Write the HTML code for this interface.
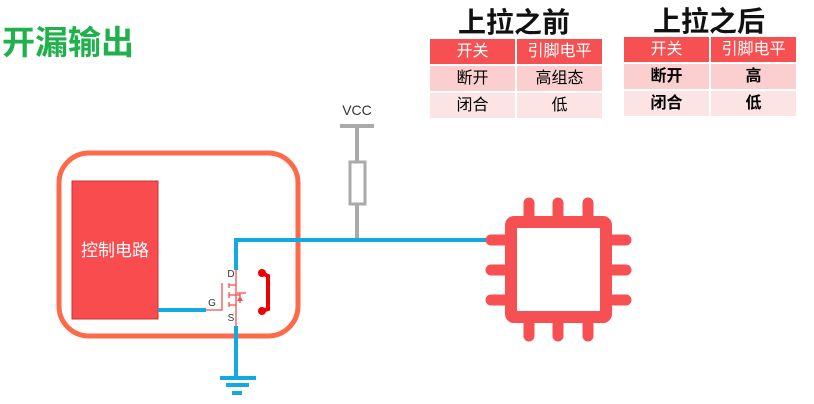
<!DOCTYPE html>
<html><head><meta charset="utf-8"><style>
body{margin:0;width:814px;height:404px;background:#fff;overflow:hidden;position:relative;font-family:"Liberation Sans","Noto Sans CJK SC",sans-serif}
.t{position:absolute;white-space:nowrap}
table{position:absolute;border-collapse:separate;border-spacing:2px;font-size:16px;text-align:center}
td{height:25px;padding:0;line-height:25px}
.h td{background:#f75052;color:#fff}
.r1 td{background:#fbcfd0}
.r2 td{background:#fde4e4}
</style></head><body>
<div class="t" style="left:2px;top:16px;font-size:33px;font-weight:bold;color:#1fb14b;">开漏输出</div>
<div class="t" style="left:458px;top:1px;font-size:28px;font-weight:bold;color:#111;">上拉之前</div>
<div class="t" style="left:653px;top:0px;font-size:28px;font-weight:bold;color:#111;">上拉之后</div>
<table style="left:428px;top:37px;">
<tr class="h"><td style="width:85px">开关</td><td style="width:85px">引脚电平</td></tr>
<tr class="r1"><td>断开</td><td>高组态</td></tr>
<tr class="r2"><td>闭合</td><td>低</td></tr>
</table>
<table style="left:622px;top:35px;font-weight:bold">
<tr class="h"><td style="width:85px;font-weight:normal">开关</td><td style="width:85px;font-weight:normal">引脚电平</td></tr>
<tr class="r1"><td>断开</td><td>高</td></tr>
<tr class="r2"><td>闭合</td><td>低</td></tr>
</table>
<svg width="814" height="404" style="position:absolute;left:0;top:0">
<rect x="59" y="153" width="239" height="183" rx="30" fill="none" stroke="#fd6a4a" stroke-width="5"/>
<rect x="72" y="181" width="86" height="138" fill="#f84c4e" stroke="#c33" stroke-width="1"/>
<text x="115" y="256" fill="#fff" font-size="17" text-anchor="middle" font-family="Liberation Sans,Noto Sans CJK SC,sans-serif">控制电路</text>
<text x="357" y="115" font-size="14" text-anchor="middle" fill="#333" font-family="Liberation Sans,sans-serif">VCC</text>
<line x1="340" y1="126" x2="374" y2="126" stroke="#aaa" stroke-width="4"/>
<line x1="357" y1="126" x2="357" y2="241" stroke="#aaa" stroke-width="4"/>
<rect x="350" y="162" width="15" height="42" fill="#fff" stroke="#aaa" stroke-width="3"/>
<polyline points="236,270 236,240 492,240" fill="none" stroke="#13a9e3" stroke-width="4"/>
<line x1="158" y1="310" x2="206" y2="310" stroke="#13a9e3" stroke-width="4"/>
<line x1="236" y1="326" x2="236" y2="378" stroke="#13a9e3" stroke-width="4"/>
<line x1="220" y1="378" x2="256" y2="378" stroke="#13a9e3" stroke-width="4"/>
<line x1="226" y1="385" x2="249" y2="385" stroke="#13a9e3" stroke-width="4"/>
<line x1="232" y1="393" x2="242" y2="393" stroke="#13a9e3" stroke-width="4"/>
<g stroke="#f05050" stroke-width="1.3" fill="none">
<polyline points="206,310 222,310 222,283"/>
<line x1="229" y1="283" x2="229" y2="288"/><line x1="229" y1="292" x2="229" y2="298"/><line x1="229" y1="302" x2="229" y2="307"/>
<polyline points="236,270 236,285 229,285"/>
<polyline points="229,295 240,295"/>
<polyline points="229,305 236,305 236,326"/>
<line x1="236" y1="285" x2="236" y2="305"/>
<line x1="240" y1="293" x2="240" y2="303"/>
<line x1="237" y1="293" x2="246" y2="293"/>
</g>
<polygon points="240,296 237,301 243,301" fill="#f05050"/>
<text x="231" y="277" font-size="10" text-anchor="middle" fill="#333" font-family="Liberation Sans,sans-serif">D</text>
<text x="231" y="321" font-size="10" text-anchor="middle" fill="#333" font-family="Liberation Sans,sans-serif">S</text>
<text x="212" y="306" font-size="10" text-anchor="middle" fill="#333" font-family="Liberation Sans,sans-serif">G</text>
<polyline points="262,273 268,276 268,309 262,311" fill="none" stroke="#e00" stroke-width="4"/>
<circle cx="262" cy="273" r="4" fill="#e00"/><circle cx="262" cy="311" r="4" fill="#e00"/>
<g stroke="#f75052" stroke-width="11" stroke-linecap="round">
<line x1="529" y1="203" x2="529" y2="218"/><line x1="558" y1="203" x2="558" y2="218"/><line x1="588" y1="203" x2="588" y2="218"/>
<line x1="529" y1="322" x2="529" y2="336"/><line x1="558" y1="322" x2="558" y2="336"/><line x1="588" y1="322" x2="588" y2="336"/>
<line x1="491" y1="240" x2="505" y2="240"/><line x1="491" y1="270" x2="505" y2="270"/><line x1="491" y1="300" x2="505" y2="300"/>
<line x1="612" y1="240" x2="626" y2="240"/><line x1="612" y1="270" x2="626" y2="270"/><line x1="612" y1="300" x2="626" y2="300"/>
</g>
<rect x="511" y="222" width="95" height="95" rx="3" fill="#fff" stroke="#f75052" stroke-width="12"/>
</svg>
</body></html>
